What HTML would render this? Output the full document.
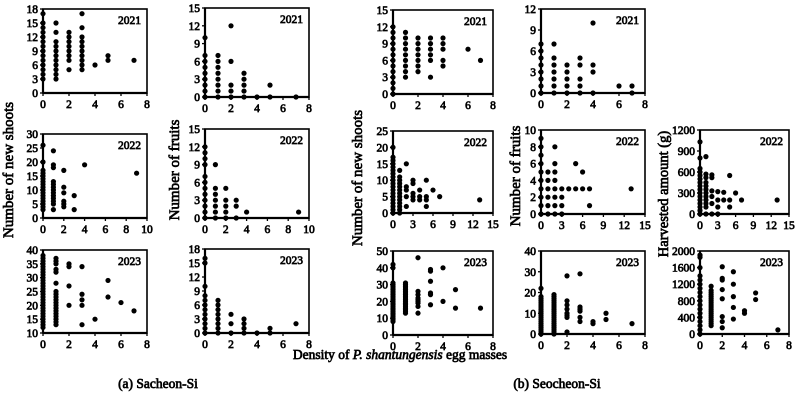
<!DOCTYPE html>
<html><head><meta charset="utf-8"><style>
html,body{margin:0;padding:0;background:#fff;}
svg text{font-family:"Liberation Serif","DejaVu Serif",serif;font-weight:normal;stroke:#000;stroke-width:0.7px;}
</style></head><body>
<svg id="chart" width="800" height="405" viewBox="0 0 800 405" xmlns="http://www.w3.org/2000/svg">
<g id="panels"></g>
<text x="13" y="170" transform="rotate(-90 13 170)" text-anchor="middle" font-size="15">Number of new shoots</text>
<text x="179" y="170" transform="rotate(-90 179 170)" text-anchor="middle" font-size="15">Number of fruits</text>
<text x="362" y="178" transform="rotate(-90 362 178)" text-anchor="middle" font-size="15">Number of new shoots</text>
<text x="520" y="176" transform="rotate(-90 520 176)" text-anchor="middle" font-size="15">Number of fruits</text>
<text x="668" y="194" transform="rotate(-90 668 194)" text-anchor="middle" font-size="14.5">Harvested amount (g)</text>
<text x="400" y="359" text-anchor="middle" font-size="13.5">Density of <tspan font-style="italic">P. shantungensis</tspan> egg masses</text>
<text x="158" y="388" text-anchor="middle" font-size="13.5">(a) Sacheon-Si</text>
<text x="557" y="388" text-anchor="middle" font-size="13.5">(b) Seocheon-Si</text>
</svg>
<script>
// Each series: [density, [values...]]
const sacShoots21 = [[0,[3,4,5,6,7,8,9,10,11,12,13,14,15,17]],[1,[3,4,5,6,7,8,9,10,11,13,15]],[2,[5,7,8,9,10,11,12,13]],[3,[5,6,7,8,9,10,11,12,14,17]],[4,[6]],[5,[7,8]],[7,[7]]];
const sacFruits21 = [[0,[0,1,2,3,4,5,6,7,10]],[1,[0,1,2,3,4,5,6,7]],[2,[0,1,2,6,12]],[3,[0,1,2,3,4]],[4,[0]],[5,[0,2]],[7,[0]]];
const sacShoots22 = [[0,[3,4,5,6,7,8,9,10,11,12,13,14,15,16,17,20,26]],[1,[3,5,6,7,8,9,10,11,12,13,18,19,24]],[2,[4,5,6,9,11,17]],[3,[3,8]],[4,[19]],[9,[16]]];
const sacFruits22 = [[0,[0,1,2,3,4,5,6,7,9,10,11,12]],[1,[0,1,2,3,4,5,9]],[2,[0,1,2,3,5]],[3,[0,2,3]],[4,[1]],[9,[1]]];
const sacShoots23 = [[0,[12,13,14,15,16,17,18,19,20,21,22,23,24,25,26,27,28,29,30,31,32,33,34,35,36,37,38]],[1,[13,14,15,16,17,18,19,20,21,22,23,24,25,28,32,33,35,36,37]],[2,[20,27,34,35]],[3,[13,20,22,24,34]],[4,[15]],[5,[23,29]],[6,[21]],[7,[18]]];
const sacFruits23 = [[0,[0,1,2,3,4,5,6,7,8,10,15,16]],[1,[0,1,2,3,4,5,6,7]],[2,[0,2,4]],[3,[0,1,2,3]],[4,[0]],[5,[0,1]],[7,[2]]];
const seoShoots21 = [[0,[0,1,2,3,4,5,6,7,8,9,10,11,12]],[1,[3,4,5,6,7,8,9,10,11]],[2,[4,5,6,7,8,9,10]],[3,[3,6,7,8,9,10]],[4,[5,6,8,9,10]],[6,[8]],[7,[6]]];
const seoFruits21 = [[0,[0,1,2,3,4,5,6,7]],[1,[0,1,2,3,4,5,7]],[2,[0,1,2,3,4]],[3,[0,1,2,4,5]],[4,[0,3,4,10]],[6,[1]],[7,[0,1]]];
const seoShoots22 = [[0,[0,1,2,3,4,5,6,7,8,9,10,11,12,13,14,15,16,17,20]],[1,[0,1,2,3,4,5,6,7,8,9,10,11,13]],[2,[2,5,7,8,15]],[3,[4,5,6,9,10]],[4,[4,5,7]],[5,[2,4,5,10]],[6,[7]],[7,[5]],[13,[4]]];
const seoFruits22 = [[0,[0,1,2,3,4,5,6,7,8,9]],[1,[0,1,2,3,4,5]],[2,[0,1,2,3,4,5,6,8]],[3,[0,1,2,3]],[4,[3]],[5,[3,6]],[6,[3,5]],[7,[1,3]],[13,[3]]];
const seoHarvest22 = [[0,[0,50,100,150,200,250,300,350,400,450,500,550,600,650,800,1030]],[1,[0,100,150,200,250,300,350,400,450,520,570,820]],[2,[0,150,250,330,520,560]],[3,[0,100,200,320]],[4,[200,310]],[5,[100,200,550]],[6,[300]],[7,[200]],[13,[200]]];
const seoShoots23 = [[0,[8,9,10,11,12,13,14,15,16,17,18,19,20,21,22,23,24,25,26,27,28,29,30,31,40,42]],[1,[13,14,15,16,17,18,19,20,21,22,23,24,25,26,27,28,29,30,31]],[2,[13,17,19,20,21,22,24,26,46]],[3,[18,24,25,32,38,39]],[4,[20,40]],[5,[16,27]],[7,[16]]];
const seoFruits23 = [[0,[0,1,2,3,4,5,6,7,8,9,10,11,12,13,14,15,16,17,18,22]],[1,[0,1,2,3,4,5,6,7,8,9,10,11,12,13,14,15,16,17,18,19]],[2,[1,8,9,10,12,14,16,28]],[3,[6,8,11,12,13,29]],[4,[5,6]],[5,[7,10]],[7,[5]]];
const seoHarvest23 = [[0,[0,100,200,300,400,500,600,700,800,900,1000,1100,1200,1300,1400,1600,1850,1900]],[1,[200,250,300,350,400,450,500,550,600,650,700,750,800,850,900,950,1000,1050,1150]],[2,[150,300,420,850,1070,1300,1340,1620]],[3,[360,640,900,1200,1500]],[4,[500,560]],[5,[830,990]],[7,[100]]];

const panels = [
 {name:'sacheon-shoots-2021',d:sacShoots21,x0:43,x1:147,yt:9,yb:93,xmax:8,xs:2,ymin:0,ymax:18,ys:3,yr:'2021'},
 {name:'sacheon-fruits-2021',d:sacFruits21,x0:205,x1:309,yt:8,yb:97,xmax:8,xs:2,ymin:0,ymax:15,ys:3,yr:'2021'},
 {name:'sacheon-shoots-2022',d:sacShoots22,x0:43,x1:147,yt:134,yb:218,xmax:10,xs:2,ymin:0,ymax:30,ys:5,yr:'2022'},
 {name:'sacheon-fruits-2022',d:sacFruits22,x0:205,x1:309,yt:129,yb:218,xmax:10,xs:2,ymin:0,ymax:15,ys:3,yr:'2022'},
 {name:'sacheon-shoots-2023',d:sacShoots23,x0:43,x1:147,yt:250,yb:333,xmax:8,xs:2,ymin:10,ymax:40,ys:5,yr:'2023'},
 {name:'sacheon-fruits-2023',d:sacFruits23,x0:205,x1:309,yt:249,yb:333,xmax:8,xs:2,ymin:0,ymax:18,ys:3,yr:'2023'},
 {name:'seocheon-shoots-2021',d:seoShoots21,x0:393,x1:493,yt:10,yb:94,xmax:8,xs:2,ymin:0,ymax:15,ys:3,yr:'2021'},
 {name:'seocheon-fruits-2021',d:seoFruits21,x0:541,x1:645,yt:9,yb:93,xmax:8,xs:2,ymin:0,ymax:12,ys:3,yr:'2021'},
 {name:'seocheon-shoots-2022',d:seoShoots22,x0:393,x1:493,yt:131,yb:213,xmax:15,xs:3,ymin:0,ymax:25,ys:5,yr:'2022'},
 {name:'seocheon-fruits-2022',d:seoFruits22,x0:541,x1:645,yt:130,yb:214,xmax:15,xs:3,ymin:0,ymax:10,ys:2,yr:'2022'},
 {name:'seocheon-harvest-2022',d:seoHarvest22,x0:700,x1:789,yt:130,yb:214,xmax:15,xs:3,ymin:0,ymax:1200,ys:300,yr:'2022'},
 {name:'seocheon-shoots-2023',d:seoShoots23,x0:393,x1:493,yt:251,yb:335,xmax:8,xs:2,ymin:0,ymax:50,ys:10,yr:'2023'},
 {name:'seocheon-fruits-2023',d:seoFruits23,x0:541,x1:645,yt:251,yb:334,xmax:8,xs:2,ymin:0,ymax:40,ys:10,yr:'2023'},
 {name:'seocheon-harvest-2023',d:seoHarvest23,x0:700,x1:789,yt:251,yb:334,xmax:8,xs:2,ymin:0,ymax:2000,ys:400,yr:'2023'}
];

const NS='http://www.w3.org/2000/svg';
const root=document.getElementById('panels');
function mk(tag,attrs,parent){const e=document.createElementNS(NS,tag);for(const k in attrs)e.setAttribute(k,attrs[k]);parent.appendChild(e);return e;}

panels.forEach(p=>{
  const g=mk('g',{},root);
  
  
  const sx=v=>p.x0+(v/p.xmax)*(p.x1-p.x0);
  const sy=v=>p.yb-((v-p.ymin)/(p.ymax-p.ymin))*(p.yb-p.yt);
  const fr=mk('rect',{x:p.x0,y:p.yt,width:p.x1-p.x0,height:p.yb-p.yt,fill:'none',stroke:'#000','stroke-width':1.6},g);
  
  
  mk('line',{x1:p.x0,y1:p.yt,x2:p.x0,y2:p.yb,stroke:'#000','stroke-width':2.2},g);
  mk('line',{x1:p.x0,y1:p.yb,x2:p.x1,y2:p.yb,stroke:'#000','stroke-width':2.2},g);
  for(let v=0;v<=p.xmax+1e-9;v+=p.xs){
    const x=sx(v);
    mk('line',{x1:x,y1:p.yb,x2:x,y2:p.yb+3,stroke:'#000','stroke-width':1.3},g);
    const t=mk('text',{x:x,y:p.yb+15,'text-anchor':'middle','font-size':11.5},g);
    t.textContent=v;
    
    
  }
  for(let v=p.ymin;v<=p.ymax+1e-9;v+=p.ys){
    const y=sy(v);
    mk('line',{x1:p.x0-3,y1:y,x2:p.x0,y2:y,stroke:'#000','stroke-width':1.3},g);
    const t=mk('text',{x:p.x0-5,y:y+4,'text-anchor':'end','font-size':11.5},g);
    t.textContent=v;
    
    
  }
  const yl=mk('text',{x:p.x1-6,y:p.yt+15,'text-anchor':'end','font-size':11.5},g);
  yl.textContent=p.yr;
  
  
  p.d.forEach(([xv,ys])=>{
    ys.forEach(yv=>{
      const c=mk('circle',{cx:sx(xv),cy:sy(yv),r:2.6,fill:'#000'},g);
      
      
    });
  });
});
</script>
</body></html>
